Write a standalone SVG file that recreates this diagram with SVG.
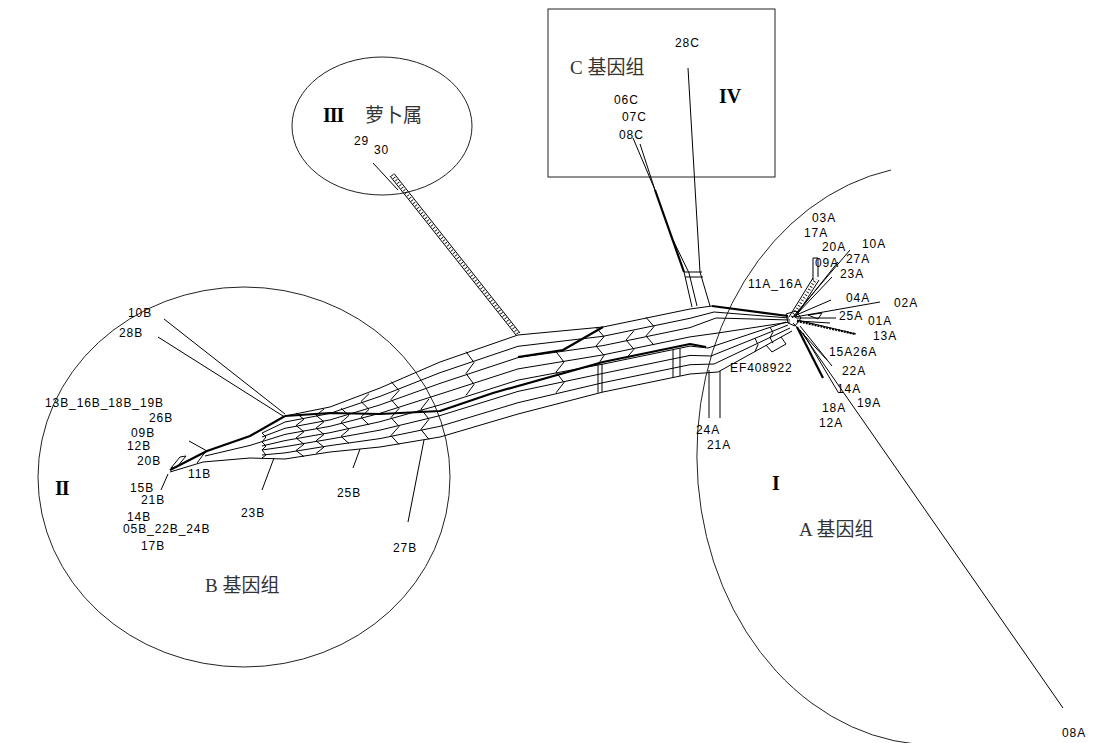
<svg xmlns="http://www.w3.org/2000/svg" width="1093" height="743" viewBox="0 0 1093 743">
<style>
.ln{fill:none;stroke:#000;stroke-width:1;stroke-linejoin:round}
.tk{fill:none;stroke:#000;stroke-width:2.2;stroke-linejoin:round}
.hx{fill:none;stroke:#000;stroke-width:3;stroke-dasharray:0.8 2.4}
.rg{fill:none;stroke:#222;stroke-width:1}
.t{font-family:'Liberation Sans',Arial,sans-serif;font-size:12px;letter-spacing:0.9px;fill:#000}
.c{font-family:'Liberation Serif','Noto Sans CJK SC',serif;font-size:19px;fill:#333}
.r{font-family:'Liberation Serif','Times New Roman',serif;font-weight:bold;font-size:20px;fill:#000}
</style>
<rect width="1093" height="743" fill="#fff"/>
<g id="regions">
<ellipse class="rg" cx="382" cy="126" rx="90" ry="69"/>
<ellipse class="rg" cx="244" cy="477" rx="206" ry="190"/>
<rect class="rg" x="548" y="9" width="227" height="168"/>
<path class="rg" d="M891 170 A238 290 0 0 0 938 745"/>
</g>
<g id="connectors">
<!-- main band -->
<polyline class="tk" points="170,470 207,451 250,436 285,416"/>
<polyline class="ln" points="285,416 330,407 380,388 440,362 518,335 603,327 690,309 712,306"/>
<polyline class="tk" points="712,306 788,316"/>
<polyline class="ln" points="262,433 285,422 330,413.4 380,396.4 440,372.7 518,346.3 603,336.3 690,318.3 714,312 789,318"/>
<polyline class="ln" points="262,437 285,428.3 330,419.9 380,404.9 440,383.4 518,357.6 603,345.6 690,327.6 716,318 790,320"/>
<polyline class="ln" points="205,456 250,445.4 285,434.4 330,426.3 380,413.3 440,394.1 518,368.9 603,354.9 690,336.9 718,333 790,322"/>
<polyline class="ln" points="262,446 285,440.6 330,432.7 380,421.7 440,404.9 518,380.1 603,364.1 690,346.1 708,348 786,322"/>
<polyline class="ln" points="262,450 285,446.7 330,439.1 380,430.1 440,415.6 518,391.4 603,373.4 690,355.4 711,356 788,325"/>
<polyline class="ln" points="262,455 285,452.9 330,445.6 380,438.6 440,426.3 518,402.7 603,382.7 690,364.7 714,364 790,328"/>
<polyline class="ln" points="170,472 203,462 250,458 285,459 330,452 380,447 440,437 518,414 603,392 690,374 718,372 792,331"/>
<polyline class="tk" points="285,416 330,413 380,414 440,411 493,393 603,362 690,344 706,347"/>
<polyline class="tk" points="518,357 563,350 603,327"/>
<!-- cross links -->
<polyline class="ln" points="262,433 266,437 262,442 266,446 262,450 266,455 262,458"/>
<polyline class="ln" points="296,413 304,419.2 296,425.5 304,431.7 296,438 304,444.2 296,450.5 304,456.7"/>
<polyline class="ln" points="324,409 316,415.4 324,421.7 316,428.1 324,434.4 316,440.8 324,447.1 316,453.5"/>
<polyline class="ln" points="341,408.3 349,415.4 341,422.4 349,429.4 341,436.4 349,443.5"/>
<polyline class="ln" points="369,393.7 361,401.5 369,409.4 361,417.2 369,425"/>
<polyline class="ln" points="391,381.5 399,390.5 391,399.5 399,408.5 391,417.5 399,426.5 391,435.5 399,444.5"/>
<polyline class="ln" points="429,398.9 421,409.1 429,419.2 421,429.4 429,439.5"/>
<polyline class="ln" points="466,351.6 474,362.5 466,373.5 474,384.4 466,395.4"/>
<polyline class="ln" points="556,351.7 564,362 556,372.2 564,382.5 556,392.8"/>
<polyline class="ln" points="596,327.3 604,336.7 596,346 604,355.4 598,364.7 598,392.8"/>
<polyline class="ln" points="602,364 602,392"/>
<polyline class="ln" points="634,330.7 626,340 634,349.3 626,358.5"/>
<polyline class="ln" points="646,317.3 654,326.6 646,335.9 654,345.2"/>
<polyline class="ln" points="673,349.6 673,377.5"/>
<polyline class="ln" points="680,348 680,376"/>
<polyline class="ln" points="755,338.3 758,344.6 755,351.5"/>
<polyline class="ln" points="770,327.3 773,332.2 770,337.5 773,343.2"/>
<polyline class="ln" points="766,345 772,352 786,344 781,337"/>
<!-- B side branches -->
<polyline class="ln" points="164,319 285,414"/>
<polyline class="ln" points="158,337 283,416"/>
<polyline class="ln" points="274,458 262,490"/>
<polyline class="ln" points="360,449 353,468"/>
<polyline class="ln" points="424,440 408,522"/>
<polyline class="ln" points="189,441 207,451"/>
<polyline class="ln" points="197,463 206,451"/>
<polyline class="ln" points="168,474 161,490"/>
<polyline class="ln" points="171,468 180,457 186,456 177,467 171,468"/>
<!-- III branch -->
<polyline class="ln" points="373,163 398,190"/>
<polyline class="ln" points="390,176 516,335"/>
<polyline class="ln" points="394,173.5 520,333"/>
<polyline class="hx" points="392,175 518,334"/>
<!-- C branch -->
<polyline class="ln" points="633,138 655,190"/>
<polyline class="ln" points="640,144 655,190"/>
<polyline class="tk" points="655,190 684,272"/>
<polyline class="ln" points="684,272 692,307"/>
<polyline class="ln" points="673,240 689,273 697,306"/>
<polyline class="ln" points="688,68 700,272 710,306"/>
<polyline class="ln" points="684,272 702,272"/>
<polyline class="ln" points="685,277 703,277"/>
<!-- A side -->
<polyline class="ln" points="786,314 796,311 801,318 795,326 788,323 786,314"/>
<polyline class="ln" points="792,318 850,250"/>
<polyline class="ln" points="795,316 838,262"/>
<polyline class="ln" points="794,317 832,277"/>
<polyline class="ln" points="789,317 813,278"/>
<polyline class="ln" points="795,318 819,280"/>
<polyline class="hx" points="792,317 816,279"/>
<polyline class="ln" points="813,280 813,258 818,258 818,277"/>
<polyline class="ln" points="794,316 831,300"/>
<polyline class="ln" points="795,317 880,302"/>
<polyline class="ln" points="796,318 836,318"/>
<polyline class="ln" points="808,315 818,319 822,313 808,315"/>
<polyline class="ln" points="798,321 830,323"/>
<polyline class="ln" points="797,320 856,334"/>
<polyline class="tk" points="797,321 855,334" stroke-dasharray="2 1"/>
<polyline class="ln" points="793,323 827,360"/>
<polyline class="ln" points="800,326 832,366"/>
<polyline class="tk" points="797,327 823,378"/>
<polyline class="ln" points="803,333 838,392"/>
<polyline class="ln" points="800,330 1063,708"/>
<polyline class="ln" points="709,370 709,418"/>
<polyline class="ln" points="720,371 720,418"/>
</g>
<g id="group-III">
<text class="r" x="323" y="122" letter-spacing="-1">III</text>
<text class="c" x="365" y="122">萝卜属</text>
<text id="n29" class="t" x="354" y="145">29</text>
<text id="n30" class="t" x="374" y="154">30</text>
</g>
<g id="group-IV">
<text class="c" x="570" y="74">C 基因组</text>
<text class="r" x="719" y="103" font-size="21">IV</text>
<text id="n28C" class="t" x="675" y="47">28C</text>
<text id="n06C" class="t" x="614" y="104">06C</text>
<text id="n07C" class="t" x="622" y="121">07C</text>
<text id="n08C" class="t" x="619" y="139">08C</text>
</g>
<g id="group-I">
<text class="r" x="772" y="490">I</text>
<text class="c" x="799" y="536">A 基因组</text>
<text id="n03A" class="t" x="812" y="222">03A</text>
<text id="n17A" class="t" x="804" y="237">17A</text>
<text id="n20A" class="t" x="822" y="251">20A</text>
<text id="n10A" class="t" x="862" y="248">10A</text>
<text id="n27A" class="t" x="846" y="263">27A</text>
<text id="n09A" class="t" x="815" y="267">09A</text>
<text id="n23A" class="t" x="840" y="278">23A</text>
<text id="n11A16A" class="t" x="748" y="288">11A_16A</text>
<text id="n04A" class="t" x="846" y="302">04A</text>
<text id="n02A" class="t" x="894" y="307">02A</text>
<text id="n25A" class="t" x="839" y="320">25A</text>
<text id="n01A" class="t" x="868" y="325">01A</text>
<text id="n13A" class="t" x="873" y="340">13A</text>
<text id="n15A26A" class="t" x="829" y="356">15A26A</text>
<text id="n22A" class="t" x="842" y="375">22A</text>
<text id="n14A" class="t" x="837" y="393">14A</text>
<text id="n19A" class="t" x="857" y="407">19A</text>
<text id="n18A" class="t" x="822" y="412">18A</text>
<text id="n12A" class="t" x="819" y="427">12A</text>
<text id="nEF" class="t" x="730" y="372">EF408922</text>
<text id="n24A" class="t" x="696" y="434">24A</text>
<text id="n21A" class="t" x="707" y="449">21A</text>
<text id="n08A" class="t" x="1062" y="737">08A</text>
</g>
<g id="group-II">
<text class="r" x="55" y="495" letter-spacing="-1">II</text>
<text class="c" x="205" y="592">B 基因组</text>
<text id="n10B" class="t" x="128" y="317">10B</text>
<text id="n28B" class="t" x="119" y="337">28B</text>
<text id="n13B" class="t" x="45" y="407">13B_16B_18B_19B</text>
<text id="n26B" class="t" x="149" y="422">26B</text>
<text id="n09B" class="t" x="131" y="437">09B</text>
<text id="n12B" class="t" x="127" y="450">12B</text>
<text id="n20B" class="t" x="137" y="465">20B</text>
<text id="n11B" class="t" x="188" y="478">11B</text>
<text id="n15B" class="t" x="130" y="492">15B</text>
<text id="n21B" class="t" x="141" y="504">21B</text>
<text id="n14B" class="t" x="127" y="521">14B</text>
<text id="n05B" class="t" x="123" y="533">05B_22B_24B</text>
<text id="n17B" class="t" x="141" y="550">17B</text>
<text id="n23B" class="t" x="241" y="517">23B</text>
<text id="n25B" class="t" x="337" y="497">25B</text>
<text id="n27B" class="t" x="393" y="552">27B</text>
</g>
</svg>
